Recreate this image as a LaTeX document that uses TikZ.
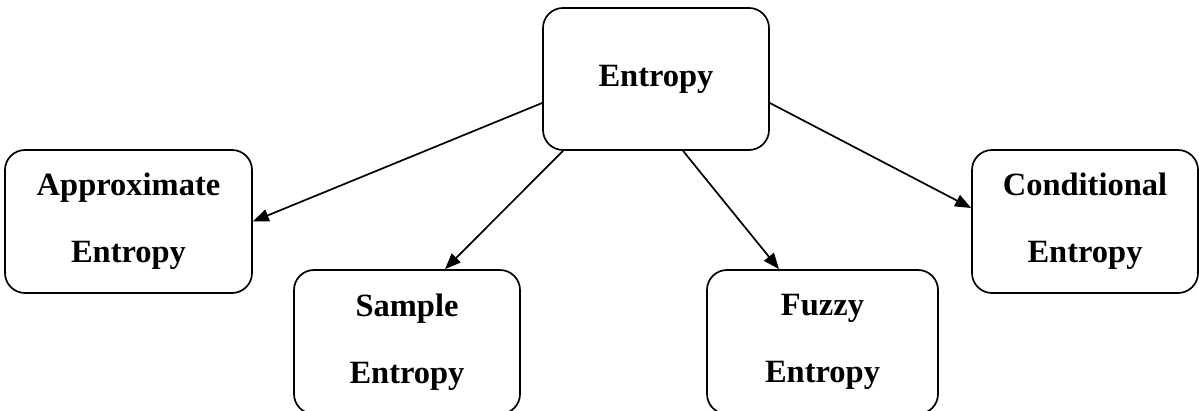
\documentclass[tikz,border=0pt]{standalone}
\usepackage{fontspec}
\setmainfont{Liberation Serif}
\usetikzlibrary{arrows.meta}
\begin{document}
\begin{tikzpicture}[x=1pt,y=-1pt,
  box/.style={draw=black,line width=1.7pt,rounded corners=20pt,align=center,
    font=\fontsize{32.5}{67}\selectfont\bfseries,inner sep=0pt},
  arr/.style={line width=1.7pt,-{Triangle[length=16pt,width=12.5pt]}}]
\useasboundingbox[fill=white] (0,0) rectangle (1199,411);
\node[box,minimum width=226pt,minimum height=142pt] (ent) at (656,79) {Entropy};
\node[box,minimum width=247pt,minimum height=143pt] (app) at (128.5,221.5) {Approximate\hspace{14pt}\\Entropy};
\node[box,minimum width=226pt,minimum height=144pt] (sam) at (407,342) {Sample\\Entropy};
\node[box,minimum width=231pt,minimum height=144pt] (fuz) at (822.5,342) {Fuzzy\\Entropy};
\node[box,minimum width=226pt,minimum height=143pt] (con) at (1085,221.5) {Conditional\\Entropy};
\draw[arr] ([yshift=-24pt]ent.west) -- (app.east);
\draw[arr] ([xshift=-93pt]ent.south) -- ([xshift=38pt]sam.north);
\draw[arr] ([xshift=27pt]ent.south) -- ([xshift=-43.5pt]fuz.north);
\draw[arr] ([yshift=-24pt]ent.east) -- ([yshift=13.5pt]con.west);
\end{tikzpicture}
\end{document}
